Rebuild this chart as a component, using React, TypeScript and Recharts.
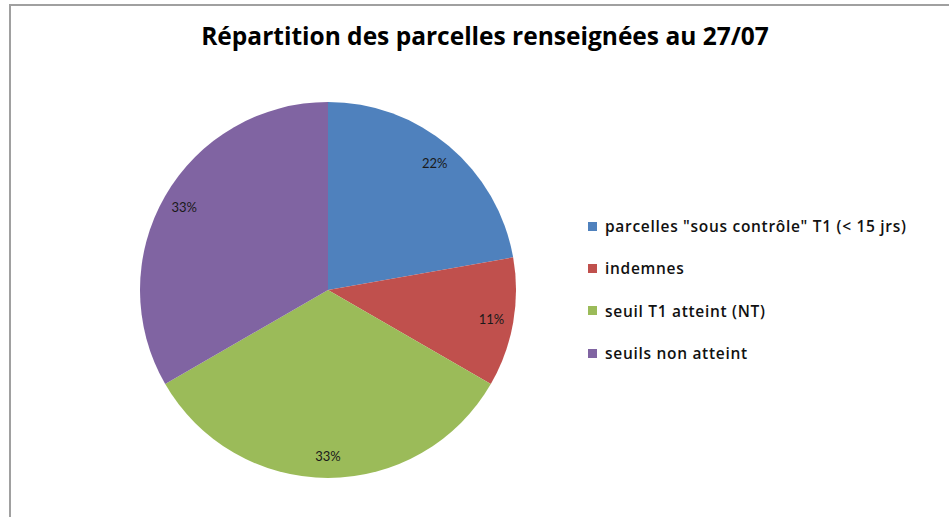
import { PieChart, Pie, Cell, Legend } from 'recharts';

const categories = [
  'parcelles "sous contrôle" T1 (< 15 jrs)',
  'indemnes',
  'seuil T1 atteint (NT)',
  'seuils non atteint',
];
const counts = [2, 1, 3, 3];
const colors = ['#4F81BD', '#C0504D', '#9BBB59', '#8064A2'];
const title = 'Répartition des parcelles renseignées au 27/07';

const data = categories.map((name, i) => ({ name, value: counts[i] }));

const RAD = Math.PI / 180;

function renderLabel(props: any) {
  const { cx, cy, midAngle, percent } = props;
  const r = 166;
  const x = cx + r * Math.cos(-midAngle * RAD);
  const y = cy + r * Math.sin(-midAngle * RAD);
  return (
    <text x={x} y={y} fill="#1a1a1a" fontSize={13} fontFamily="Lato, sans-serif" textAnchor="middle" dominantBaseline="central">
      {Math.round(percent * 100)}%
    </text>
  );
}

function LegendBox() {
  return (
    <div style={{ fontFamily: '"Open Sans", sans-serif', fontSize: 15.5, fontWeight: 600, letterSpacing: 0.7, color: '#111' }}>
      {data.map((d, i) => (
        <div key={d.name} style={{ display: 'flex', alignItems: 'center', height: 42.3, whiteSpace: 'nowrap' }}>
          <span style={{ width: 9, height: 9, background: colors[i], marginRight: 8, display: 'inline-block', flexShrink: 0 }} />
          <span>{d.name}</span>
        </div>
      ))}
    </div>
  );
}

export default function App() {
  return (
    <div style={{ position: 'fixed', left: 0, top: 0, width: 949, height: 517, background: '#fff', overflow: 'hidden' }}>
      <div
        style={{
          position: 'absolute',
          left: 9,
          top: 4,
          width: 960,
          height: 540,
          borderLeft: '2px solid #a0a0a0',
          borderTop: '2px solid #a0a0a0',
        }}
      />
      <div
        style={{
          position: 'absolute',
          left: 0,
          top: 19,
          width: 970,
          textAlign: 'center',
          fontFamily: '"Open Sans", sans-serif',
          fontWeight: 700,
          fontSize: 24.5,
          color: '#000',
        }}
      >
        {title}
      </div>
      <div style={{ position: 'absolute', left: 0, top: 0 }}>
        <PieChart width={949} height={517}>
          <Pie
            data={data}
            dataKey="value"
            nameKey="name"
            cx={323}
            cy={285}
            outerRadius={188}
            startAngle={90}
            endAngle={-270}
            stroke="none"
            label={renderLabel}
            labelLine={false}
            isAnimationActive={false}
          >
            {data.map((d, i) => (
              <Cell key={d.name} fill={colors[i]} />
            ))}
          </Pie>
          <Legend
            layout="vertical"
            content={<LegendBox />}
            wrapperStyle={{ left: 588, top: 205, width: 360 }}
          />
        </PieChart>
      </div>
    </div>
  );
}
